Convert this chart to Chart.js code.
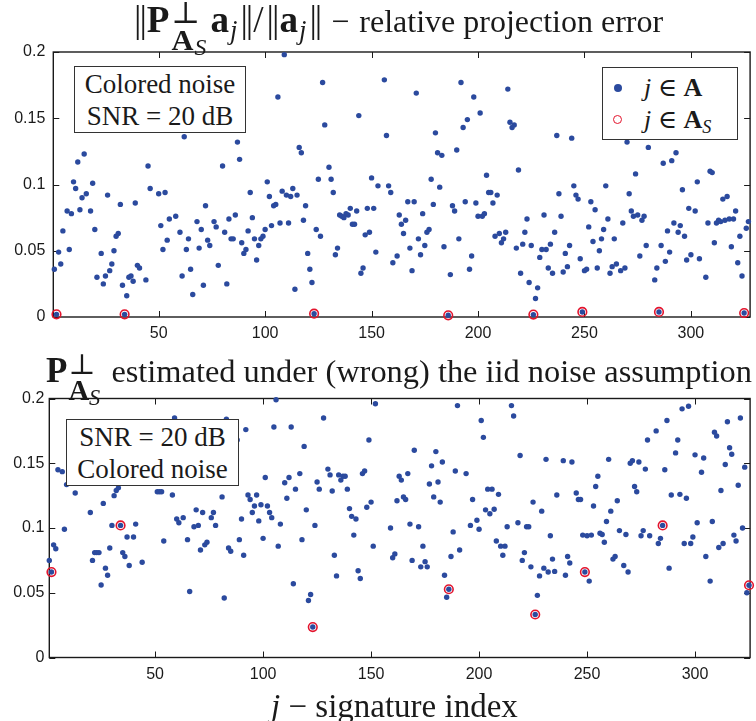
<!DOCTYPE html>
<html>
<head>
<meta charset="utf-8">
<script src="https://cdn.jsdelivr.net/npm/chart.js@4.4.1/dist/chart.umd.min.js"></script>
<style>
  body { margin: 0; background: #fff; }
  #wrap { position: relative; width: 756px; height: 721px; overflow: hidden;
          font-family: "Liberation Serif", "DejaVu Serif", serif; color: #1a1a1a; }
  canvas { position: absolute; left: 0; }
  .ttl { position: absolute; font-size: 32px; line-height: 36px; height: 36px; white-space: nowrap; }
  .ttl sub { font-size: 0.72em; vertical-align: -0.25em; line-height: 0; }
  .m { font-size: 1.08em; }
  .mt { font-size: 1.16em; letter-spacing: 1px; }
  .nb { letter-spacing: -2px; margin: 0 2px; }
  .op { margin: 0 10px 0 9px; }
  .ss { display: inline-block; vertical-align: -0.62em; font-size: 0.82em; line-height: 0.9;
        text-align: left; margin-left: 1px; margin-right: 3px; }
  .ss > span { display: block; }
  .ss sub { font-size: 0.78em; vertical-align: -0.22em; }
  .box { position: absolute; box-sizing: border-box; background: #fff; border: 1px solid #333;
         font-size: 27px; line-height: 32px; text-align: center; padding-top: 1px; }
  .leg { position: absolute; box-sizing: border-box; background: #fff; border: 1px solid #333;
         left: 602px; top: 67px; width: 136px; height: 73px; font-size: 26px; }
  .leg .row { position: absolute; left: 41px; white-space: nowrap; }
  .leg sub { font-size: 0.7em; vertical-align: -0.3em; }
  .dot { position: absolute; width: 8px; height: 8px; border-radius: 50%; background: #2b4a9e; }
  .ring { position: absolute; width: 7.4px; height: 7.4px; border-radius: 50%; border: 1.8px solid #e3142d; }
</style>
</head>
<body>
<div id="wrap">
  <canvas id="top" width="756" height="350" style="top:0"></canvas>
  <canvas id="bot" width="756" height="371" style="top:350px"></canvas>

  <div class="ttl" style="top:0px;left:132px"><span class="mt"><span class="nb">||</span><b>P</b><span class="ss"><span>⊥</span><span><b>A</b><sub><i>S</i></sub></span></span><b>a</b><sub><i>j</i></sub><span class="nb">||</span>/<span class="nb">||</span><b>a</b><sub><i>j</i></sub><span class="nb">||</span></span><span class="op">−</span>relative projection error</div>
  <div class="ttl" style="top:352px;left:46px;font-size:32.4px"><span class="m"><b>P</b><span class="ss"><span>⊥</span><span><b>A</b><sub><i>S</i></sub></span></span></span> estimated under (wrong) the iid noise assumption</div>
  <div class="ttl" style="top:688px;left:271px;font-size:33px"><i>j</i> − signature index</div>

  <div class="box" style="left:74px;top:66px;width:172px;height:67px">Colored noise<br>SNR = 20 dB</div>
  <div class="box" style="left:66px;top:419px;width:173px;height:67px">SNR = 20 dB<br>Colored noise</div>

  <div class="leg">
    <span class="dot" style="left:11px;top:16px"></span>
    <span class="row" style="top:4px"><i>j</i> ∈ <b>A</b></span>
    <span class="ring" style="left:9.5px;top:46.5px"></span>
    <span class="row" style="top:36px"><i>j</i> ∈ <b>A</b><sub><i>S</i></sub></span>
  </div>
</div>

<script>
// valori: indice j e errore relativo
var topJ = [1,2,3,4,5,7,8,9,10,11,12,13,14,15,16,18,19,20,21,23,24,25,26,27,28,29,30,31,32,33,34,35,36,37,38,39,40,41,44,45,46,
  50,51,52,53,54,55,58,60,61,62,63,64,65,66,68,69,70,71,72,73,74,76,77,78,80,81,82,83,84,85,86,87,88,89,90,91,92,93,94,95,96,97,98,99,
  100,101,102,103,104,105,106,107,108,109,110,111,112,113,114,115,116,117,118,119,120,121,122,123,124,125,126,127,128,130,131,132,133,134,135,136,137,138,139,
  140,141,142,143,144,145,146,147,148,149,150,151,152,153,156,157,158,159,160,162,163,164,165,166,167,168,169,170,171,172,173,174,175,176,177,178,179,
  180,181,182,183,184,186,187,188,189,190,191,192,193,194,195,196,197,198,199,200,201,202,203,204,205,206,207,208,209,210,211,212,213,214,215,216,217,218,219,
  220,221,222,223,224,225,226,227,228,229,230,231,232,233,234,235,236,237,238,239,240,241,242,243,244,245,246,247,248,249,250,251,252,253,254,255,256,257,258,259,
  260,261,262,263,264,265,267,268,269,270,271,272,273,274,275,276,277,278,279,280,283,284,285,286,287,288,289,290,291,292,293,294,295,296,297,298,299,
  300,302,303,304,307,308,309,310,311,312,313,314,315,316,317,318,319,320,321,322,323,324,325,326,327];
var topVal = [.036,.002,.049,.040,.065,.080,.051,.078,.102,.097,.117,.081,.090,.123,.093,.080,.101,.066,.030,.048,.025,.031,.092,.035,.040,.050,.061,.063,.085,.024,.002,.016,.030,.031,.027,.086,.039,.037,.028,.114,.097,
  .093,.069,.051,.094,.058,.074,.076,.064,.031,.136,.051,.059,.036,.017,.072,.052,.066,.024,.084,.058,.054,.072,.068,.039,.114,.064,.025,.074,.059,.059,.077,.132,.119,.056,.048,.051,.065,.094,.075,.059,.043,.054,.059,.061,
  .066,.102,.091,.069,.084,.085,.166,.071,.095,.198,.092,.071,.091,.097,.021,.092,.128,.124,.073,.084,.048,.036,.026,.0025,.066,.104,.061,.177,.145,.113,.104,.094,.047,.052,.077,.076,.075,.078,.077,
  .082,.070,.070,.080,.152,.033,.037,.062,.082,.064,.105,.082,.049,.099,.179,.137,.099,.094,.041,.046,.077,.070,.063,.073,.087,.052,.035,.087,.169,.059,.047,.078,.054,.064,.066,.104,.085,
  .139,.124,.098,.122,.053,.0013,.032,.084,.080,.126,.059,.177,.143,.087,.149,.036,.046,.166,.086,.076,.154,.076,.078,.107,.094,.094,.086,.061,.092,.063,.056,.059,.064,.172,.147,.143,.145,.052,.111,
  .033,.055,.064,.074,.026,.054,.0018,.014,.022,.045,.051,.077,.051,.037,.055,.033,.064,.137,.093,.076,.034,.048,.038,.054,.135,.099,.092,.089,.044,.0038,.035,.036,.068,.087,.057,.081,.037,.050,.059,.066,
  .099,.074,.033,.038,.059,.040,.035,.071,.037,.132,.093,.080,.076,.108,.077,.046,.073,.076,.054,.128,.028,.037,.0038,.054,.116,.042,.065,.049,.118,.071,.124,.064,.069,.096,.061,.043,.082,
  .047,.080,.102,.044,.030,.071,.110,.109,.056,.071,.073,.072,.089,.073,.091,.074,.053,.074,.080,.041,.061,.031,.003,.067,.072];
var topSJ = [2,34,123,186,226,249,285,325];
var topSVal = [.002,.002,.0025,.0013,.0018,.0038,.0038,.003];

var botJ = [1,2,3,4,5,7,8,9,13,20,21,22,23,24,25,26,27,28,29,30,31,32,33,34,35,36,37,38,40,41,44,
  51,52,53,54,58,59,60,61,63,65,66,68,69,70,71,72,73,74,76,77,78,81,82,83,84,85,88,89,90,91,92,93,94,95,96,97,98,99,
  100,101,102,103,104,105,106,107,108,110,111,112,113,114,115,117,118,119,120,121,122,123,124,125,126,128,130,131,132,133,134,135,136,137,138,139,
  140,141,142,143,144,145,146,147,148,149,150,151,152,159,160,161,162,163,164,165,166,167,168,169,170,172,173,174,175,176,177,178,179,
  180,181,182,183,184,185,186,187,188,189,190,191,194,196,197,199,200,201,202,203,204,205,206,207,208,209,210,211,212,213,215,216,218,219,
  220,221,222,223,224,225,226,227,228,229,230,231,232,233,234,235,236,239,240,241,242,243,245,246,247,248,249,250,251,252,253,254,255,256,257,258,259,
  260,261,262,263,264,265,267,268,269,270,271,272,273,274,275,276,277,278,279,282,283,284,285,286,287,288,289,291,292,293,294,295,296,297,298,299,
  300,301,303,304,305,307,308,309,310,311,312,313,314,315,316,317,318,319,320,321,322,323,324,325];
var botVal = [.075,.066,.087,.084,.145,.1435,.099,.1335,.127,.112,.075,.081,.081,.081,.056,.119,.069,.0635,.0845,.102,.125,.129,.131,.102,.081,.078,.093,.071,.093,.103,.0735,
  .128,.128,.128,.090,.1255,.185,.107,.104,.108,.091,.051,.101,.114,.102,.083,.112,.087,.089,.108,.112,.102,.124,.046,.184,.0845,.082,.168,.091,.107,.079,.176,.1255,.122,.112,.117,.1255,.1055,.118,
  .092,.139,.117,.112,.108,.178,.199,.086,.103,.135,.123,.139,.178,.057,.130,.142,.091,.163,.114,.044,.0486,.0235,.102,.1355,.130,.185,.1455,.141,.1286,.079,.063,.141,.137,.140,.140,.130,
  .115,.109,.0945,.107,.067,.061,.142,.144,.116,.168,.120,.086,.196,.100,.077,.080,.121,.140,.137,.124,.122,.142,.103,.075,.160,.101,.070,.086,.074,.070,.134,.148,.124,
  .159,.1355,.120,.151,.0635,.0465,.0527,.078,.097,.144,.1945,.083,.142,.102,.122,.106,.099,.183,.170,.114,.130,.111,.130,.1145,.090,.126,.086,.079,.086,.101,.1945,.1865,.104,.156,
  .075,.081,.101,.101,.070,.120,.0332,.048,.063,.113,.069,.153,.066,.094,.076,.0665,.1255,.152,.0635,.078,.073,.151,.127,.122,.122,.0945,.066,.094,.059,.0945,.117,.132,.140,.096,.095,.089,.105,
  .153,.113,.076,.078,.121,.098,.071,.095,.066,.150,.152,.132,.128,.151,.094,.098,.1455,.168,.094,.175,.088,.092,.102,.145,.183,.069,.1255,.158,.168,.126,.192,.088,.123,.194,.088,.093,
  .1565,.104,.143,.154,.078,.059,.105,.174,.171,.085,.129,.088,.149,.182,.162,.157,.0945,.090,.133,.185,.100,.147,.050,.0558];
var botSJ = [2,34,123,186,226,249,285,325];
var botSVal = [.066,.102,.0235,.0527,.0332,.066,.102,.0558];

var xTicks = [50, 100, 150, 200, 250, 300];
var yTicks = [0, 0.05, 0.1, 0.15, 0.2];

var BLUE = '#2b4a9e';
var RED = '#e3142d';
var INK = '#1a1a1a';

function pts(js, vs) {
  return js.map(function (j, i) { return { x: j, y: vs[i] }; });
}

// cornice e tacche verso l'interno, come in MATLAB
var boxTicks = {
  id: 'boxTicks',
  beforeDatasetsDraw: function (chart) {
    var a = chart.chartArea, ctx = chart.ctx;
    var xs = chart.scales.x, ys = chart.scales.y, L = 6;
    ctx.save();
    ctx.strokeStyle = INK;
    ctx.lineWidth = 1;
    ctx.beginPath();
    xTicks.forEach(function (v) {
      var px = Math.round(xs.getPixelForValue(v)) + 0.5;
      ctx.moveTo(px, a.bottom); ctx.lineTo(px, a.bottom - L);
      ctx.moveTo(px, a.top); ctx.lineTo(px, a.top + L);
    });
    yTicks.forEach(function (v) {
      var py = Math.round(ys.getPixelForValue(v)) + 0.5;
      ctx.moveTo(a.left, py); ctx.lineTo(a.left + L, py);
      ctx.moveTo(a.right, py); ctx.lineTo(a.right - L, py);
    });
    ctx.stroke();
    ctx.lineWidth = 1.4;
    ctx.strokeRect(a.left, a.top, a.right - a.left, a.bottom - a.top);
    ctx.restore();
  }
};

function makeChart(id, blue, red, o) {
  return new Chart(document.getElementById(id), {
    type: 'scatter',
    data: {
      datasets: [{
        data: red,
        pointStyle: 'circle',
        pointRadius: 4.3,
        pointBorderWidth: 1.6,
        pointBorderColor: RED,
        pointBackgroundColor: 'rgba(0,0,0,0)',
        clip: false
      }, {
        data: blue,
        pointRadius: 2.7,
        pointBorderWidth: 0,
        pointBackgroundColor: BLUE,
        pointBorderColor: BLUE,
        clip: false
      }]
    },
    plugins: [boxTicks],
    options: {
      responsive: false,
      animation: false,
      events: [],
      layout: { padding: { top: o.top, right: o.right, left: 0, bottom: 0 } },
      plugins: { legend: { display: false }, tooltip: { enabled: false } },
      scales: {
        x: {
          type: 'linear', min: o.xmin, max: o.xmax,
          afterBuildTicks: function (s) { s.ticks = xTicks.map(function (v) { return { value: v }; }); },
          afterFit: function (s) { s.height = o.xh; },
          grid: { display: false, drawTicks: false },
          border: { display: false },
          ticks: { color: INK, padding: 7, maxRotation: 0, autoSkip: false,
                   font: { family: '"Liberation Sans", Arial, sans-serif', size: 16 } }
        },
        y: {
          min: 0, max: 0.2,
          afterBuildTicks: function (s) { s.ticks = yTicks.map(function (v) { return { value: v }; }); },
          afterFit: function (s) { s.width = o.yw; },
          grid: { display: false, drawTicks: false },
          border: { display: false },
          ticks: { color: INK, padding: o.ypad,
                   font: { family: '"Liberation Sans", Arial, sans-serif', size: 16 },
                   callback: function (v) { return String(v); } }
        }
      }
    }
  });
}

makeChart('top', pts(topJ, topVal), pts(topSJ, topSVal),
  { top: 52, right: 1, xh: 33, yw: 53.3, ypad: 8, xmin: 0.5, xmax: 327.8 });
makeChart('bot', pts(botJ, botVal), pts(botSJ, botSVal),
  { top: 48.5, right: 1.5, xh: 63.5, yw: 49.3, ypad: 5, xmin: 1, xmax: 325.5 });
</script>
</body>
</html>
